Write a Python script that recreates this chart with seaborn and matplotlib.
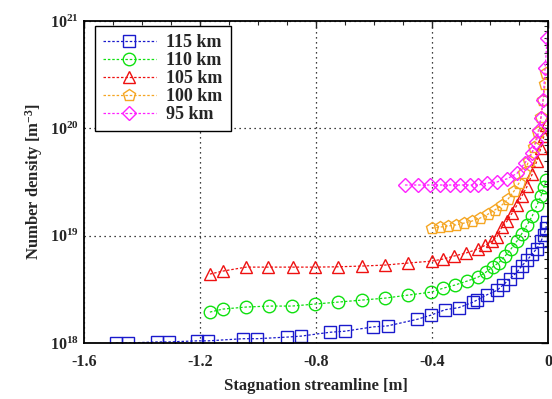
import numpy as np
import pandas as pd
import matplotlib
matplotlib.use("Agg")
import matplotlib.pyplot as plt
import matplotlib.ticker as mticker
import seaborn as sns

# ---- data (x in m, log10 of number density) ----
x115 = [-1.490, -1.448, -1.348, -1.307, -1.210, -1.172, -1.052, -1.003, -0.900, -0.852,
        -0.752, -0.700, -0.603, -0.552, -0.452, -0.403, -0.355, -0.307, -0.259, -0.245,
        -0.210, -0.176, -0.155, -0.131, -0.107, -0.090, -0.072, -0.055, -0.038, -0.024,
        -0.014, -0.007, -0.003]
y115 = [18.00, 18.00, 18.01, 18.01, 18.02, 18.02, 18.04, 18.04, 18.055, 18.064,
        18.10, 18.11, 18.15, 18.16, 18.22, 18.26, 18.31, 18.33, 18.38, 18.40,
        18.45, 18.49, 18.54, 18.60, 18.66, 18.72, 18.77, 18.83, 18.88, 18.95,
        19.01, 19.07, 19.13]

x110 = [-1.166, -1.121, -1.041, -0.962, -0.883, -0.803, -0.724, -0.641, -0.562, -0.483,
        -0.403, -0.362, -0.321, -0.279, -0.241, -0.214, -0.190, -0.169, -0.148, -0.128,
        -0.107, -0.090, -0.072, -0.055, -0.038, -0.024, -0.014, -0.007]
y110 = [18.288, 18.316, 18.335, 18.344, 18.344, 18.363, 18.381, 18.40, 18.418, 18.446,
        18.474, 18.51, 18.54, 18.577, 18.614, 18.66, 18.71, 18.75, 18.81, 18.875,
        18.95, 19.02, 19.10, 19.18, 19.285, 19.37, 19.45, 19.52]

x105 = [-1.166, -1.121, -1.041, -0.966, -0.879, -0.803, -0.724, -0.641, -0.562, -0.483,
        -0.400, -0.362, -0.324, -0.283, -0.241, -0.217, -0.193, -0.176, -0.159, -0.141,
        -0.124, -0.107, -0.090, -0.072, -0.055, -0.038, -0.024, -0.014, -0.007]
y105 = [18.642, 18.670, 18.707, 18.707, 18.707, 18.707, 18.710, 18.717, 18.726, 18.745,
        18.763, 18.782, 18.81, 18.838, 18.876, 18.91, 18.95, 18.99, 19.08, 19.136,
        19.21, 19.285, 19.37, 19.46, 19.57, 19.70, 19.82, 19.93, 20.03]

x100 = [-0.400, -0.372, -0.345, -0.317, -0.290, -0.262, -0.234, -0.207, -0.183, -0.159,
        -0.138, -0.117, -0.100, -0.083, -0.066, -0.048, -0.034, -0.024, -0.017, -0.010,
        -0.007]
y100 = [19.071, 19.08, 19.09, 19.10, 19.117, 19.136, 19.164, 19.20, 19.24, 19.285,
        19.34, 19.416, 19.49, 19.58, 19.70, 19.83, 19.97, 20.11, 20.26, 20.41,
        20.52]

x95 = [-0.493, -0.448, -0.407, -0.372, -0.338, -0.303, -0.269, -0.241, -0.210, -0.176,
       -0.141, -0.107, -0.079, -0.055, -0.041, -0.031, -0.024, -0.017, -0.010, -0.003]
y95 = [19.472, 19.472, 19.472, 19.472, 19.472, 19.472, 19.472, 19.472, 19.49, 19.50,
       19.53, 19.58, 19.68, 19.77, 19.87, 19.98, 20.10, 20.26, 20.56, 20.84]

labels = ["115 km", "110 km", "105 km", "100 km", "95 km"]
colors = ["#1a1acc", "#10e010", "#ee1111", "#f5a623", "#ff20ff"]
markers = ["s", "o", "^", "p", "D"]
xs = [x115, x110, x105, x100, x95]
ys = [y115, y110, y105, y100, y95]
xticks = [-1.6, -1.2, -0.8, -0.4, 0]
xticklabels = ["-1.6", "-1.2", "-0.8", "-0.4", "0"]

sns.set_style("white")
plt.rcParams["font.family"] = ["Liberation Serif", "DejaVu Serif"]
plt.rcParams["font.weight"] = "bold"
plt.rcParams["mathtext.fontset"] = "custom"
plt.rcParams["mathtext.rm"] = "Liberation Serif:bold"
plt.rcParams["mathtext.bf"] = "Liberation Serif:bold"
plt.rcParams["mathtext.it"] = "Liberation Serif:bold"

fig = plt.figure(figsize=(5.52, 3.99), dpi=100)
ax = fig.add_axes([84 / 552, 1 - 343 / 399, 464 / 552, 322 / 399])

for xv, yv, lab, c, m in zip(xs, ys, labels, colors, markers):
    df = pd.DataFrame({"x": xv, "n": 10 ** np.array(yv)})
    ms = 7.5 if m == "D" else 9
    sns.lineplot(data=df, x="x", y="n", ax=ax, color=c, marker=m, markersize=ms,
                 markerfacecolor="none", markeredgecolor=c, markeredgewidth=1.0,
                 linestyle=(0, (2, 1.5)), linewidth=0.9, label=lab, sort=False)

ax.set_yscale("log")
ax.set_xlim(-1.6, 0)
ax.set_ylim(1e18, 1e21)
ax.set_xticks(xticks)
ax.set_xticklabels(xticklabels)
ax.xaxis.set_minor_locator(mticker.MultipleLocator(0.1))
ax.yaxis.set_major_locator(mticker.LogLocator(base=10, numticks=10))
ax.yaxis.set_minor_locator(mticker.LogLocator(base=10, subs=np.arange(2, 10), numticks=20))
ax.yaxis.set_minor_formatter(mticker.NullFormatter())
ax.set_yticks([1e18, 1e19, 1e20, 1e21])
ax.set_yticklabels([r"$10^{18}$", r"$10^{19}$", r"$10^{20}$", r"$10^{21}$"])

ax.tick_params(which="both", direction="in", top=True, right=True, labelsize=11.5)
ax.tick_params(which="major", length=5, width=1)
ax.tick_params(which="minor", length=3, width=0.8)
ax.tick_params(axis="x", pad=8)
for lab in ax.get_xticklabels() + ax.get_yticklabels():
    lab.set_fontweight("bold")

ax.grid(True, which="major", color="black", linestyle=(0, (1, 3)), linewidth=0.9)
for s in ax.spines.values():
    s.set_color("black")
    s.set_linewidth(1.3)

ax.set_xlabel("Stagnation streamline [m]", fontsize=12, fontweight="bold", labelpad=6)
ax.set_ylabel(r"Number density [m$^{-3}$]", fontsize=12, fontweight="bold", labelpad=4)

leg = ax.legend(loc="upper left", bbox_to_anchor=(0.024, 0.984), borderaxespad=0.0,
                frameon=True, fancybox=False, edgecolor="black", framealpha=1,
                prop={"family": "Liberation Serif", "weight": "bold", "size": 13},
                handlelength=2.9, handletextpad=0.6, labelspacing=0.05, borderpad=0.45)
leg.get_frame().set_linewidth(1.0)

fig.savefig("out.png", dpi=100)
